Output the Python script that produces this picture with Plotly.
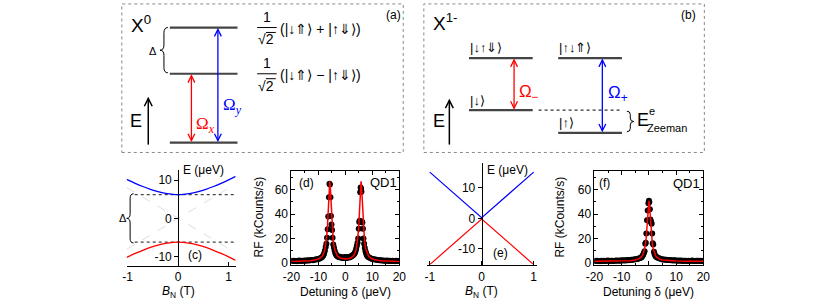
import plotly.graph_objects as go

W, H = 830, 306
FONT = "Liberation Sans, Arial, sans-serif"
SERIF = "Liberation Serif, DejaVu Serif, serif"

# ---------------- data ----------------
# (c) X0 energies vs nuclear field
c_B = [-1.02, -0.85, -0.7, -0.55, -0.4, -0.25, -0.1, 0, 0.1, 0.25, 0.4, 0.55, 0.7, 0.85, 1.0, 1.14]
c_upper = [10.17, 9.14, 8.31, 7.57, 6.96, 6.51, 6.25, 6.2, 6.25, 6.51, 6.96, 7.57, 8.31, 9.14, 10.04, 10.93]
c_lower = [-10.17, -9.14, -8.31, -7.57, -6.96, -6.51, -6.25, -6.2, -6.25, -6.51, -6.96, -7.57, -8.31, -9.14, -10.04, -10.93]
c_asym_B = [-1.02, 1.14]
c_asym_up = [-8.06, 9.0]
c_asym_dn = [8.06, -9.0]
c_split_B = [-0.86, 1.14]
c_split = [6.2, -6.2]

# (e) X1- energies vs nuclear field
e_B = [-1, 0, 1]
e_upper = [15.2, 0.2, 15.2]
e_lower = [-15.2, -0.2, -15.2]

# tick values / labels
BN_ticks = [-1, 0, 1]
BN_text = ["-1", "0", "1"]
c_yticks = [-10, 0, 10]
c_ytext = ["-10", "0", "10"]
e_yticks = [-10, 0, 10]
e_ytext = ["-10", "0", "10"]
det_ticks = [-20, -10, 0, 10, 20]
det_text = ["-20", "-10", "0", "10", "20"]
rf_ticks = [0, 20, 40, 60]
rf_text = ["0", "20", "40", "60"]

# (d) RF spectrum of X0 (QD1)
d_det = [-20, -19.5, -19, -18.5, -18, -17.5, -17, -16.5, -16, -15.5, -15, -14.5, -14, -13.5, -13, -12.5,
         -12, -11.5, -11, -10.5, -10, -9.5, -9, -8.6,
         -8.2, -7.9, -7.6, -7.3, -7.05, -6.8, -6.55, -6.35, -6.1, -5.9, -5.75, -5.55, -5.35, -5.15, -4.95,
         -4.75, -4.5, -4.25, -4.0, -3.75, -3.5,
         -3.25, -3.0, -2.75, -2.5, -2.25, -2.0, -1.75, -1.5, -1.25, -1.0, -0.75, -0.5, -0.25, 0, 0.25, 0.5,
         0.75, 1.0, 1.25, 1.5, 1.75, 2.0, 2.25, 2.5, 2.75, 3.0, 3.25,
         3.5, 3.75, 4.0, 4.25, 4.5, 4.75, 4.95, 5.15, 5.3, 5.5, 5.65, 5.8, 5.95, 6.1, 6.3, 6.5, 6.7, 6.95,
         7.2, 7.45, 7.7, 8.0, 8.3,
         8.6, 9, 9.5, 10, 10.5, 11, 11.5, 12, 12.5, 13, 13.5, 14, 14.5, 15, 15.5, 16, 16.5, 17, 17.5, 18,
         18.5, 19, 19.5, 20]
d_rf = [1.5, 1.3, 1.6, 1.4, 1.2, 1.5, 1.7, 1.4, 1.6, 1.5, 1.8, 1.6, 1.9, 1.7, 2.0, 2.1,
        2.0, 2.4, 2.6, 2.8, 3.1, 3.4, 4.0, 4.6,
        6.0, 7.5, 9.8, 13.0, 15.5, 20.5, 27.5, 38.0, 54.0, 65.0, 64.5, 54.0, 38.5, 31.5, 27.0,
        20.5, 15.0, 12.5, 10.0, 8.0, 7.0,
        6.0, 5.5, 5.0, 4.6, 4.4, 4.8, 4.2, 4.5, 4.0, 4.3, 3.8, 4.1, 4.6, 4.0, 4.4, 3.9,
        4.2, 4.6, 4.3, 4.8, 4.5, 5.0, 5.3, 5.8, 6.2, 6.6, 7.2,
        8.0, 9.5, 11.5, 14.0, 16.5, 20.0, 28.0, 33.5, 34.5, 58.0, 62.0, 61.0, 58.5, 34.0, 33.0, 28.0, 20.0, 15.5,
        12.0, 9.5, 7.5, 6.0, 5.0,
        4.5, 4.0, 3.5, 3.1, 2.8, 2.6, 2.3, 2.1, 2.0, 1.9, 1.7, 1.8, 1.6, 1.5, 1.7, 1.4, 1.5, 1.3, 1.6, 1.4,
        1.2, 1.5, 1.3, 1.4]
d_fit_det = [-20, -16, -13, -11, -9.6, -8.6, -8.1, -7.6, -7.1, -6.8, -6.6, -6.4, -6.2, -6.0, -5.8, -5.6, -5.4,
             -5.2, -5.0, -4.8, -4.5, -4.0, -3.5, -3.0, -2.0, -1.0, 0, 1.0, 2.0, 3.0, 3.5, 4.0, 4.5, 4.8, 5.0,
             5.2, 5.4, 5.6, 5.8, 6.0, 6.2, 6.4, 6.6, 6.8, 7.1, 7.6, 8.1, 8.6, 9.6, 11, 13, 16, 20]
d_fit_rf = [1.06, 1.25, 1.65, 2.3, 3.4, 5.4, 7.4, 10.8, 17.6, 24.7, 31.8, 41.2, 52.4, 62.6, 67.1, 62.7, 52.5,
            41.3, 32.0, 24.9, 17.6, 10.93, 7.58, 5.69, 3.87, 3.16, 2.97, 3.16, 3.87, 5.69, 7.58, 10.93, 17.6,
            24.9, 32.0, 41.3, 52.5, 62.7, 67.1, 62.6, 52.4, 41.2, 31.8, 24.7, 17.6, 10.8, 7.4, 5.4, 3.4, 2.3,
            1.65, 1.25, 1.06]

# (f) RF spectrum of X1- (QD1)
f_det = [-20, -19.5, -19, -18.5, -18, -17.5, -17, -16.5, -16, -15.5, -15, -14.5, -14, -13.5, -13, -12.5,
         -12, -11.5, -11, -10.5, -10, -9.5, -9, -8.5, -8, -7.5, -7, -6.5, -6, -5.5, -5, -4.5, -4, -3.5, -3,
         -2.7, -2.4, -2.1, -1.85, -1.6, -1.35, -1.15, -0.95, -0.7, -0.45, -0.2, 0.0, 0.15, 0.35, 0.55, 0.7,
         0.85, 1.0, 1.2, 1.4, 1.6, 1.85, 2.1, 2.4, 2.7,
         3, 3.5, 4, 4.5, 5, 5.5, 6, 6.5, 7, 7.5, 8, 8.5, 9, 9.5, 10, 10.5, 11, 11.5, 12, 12.5, 13, 13.5, 14,
         14.5, 15, 15.5, 16, 16.5, 17, 17.5, 18, 18.5, 19, 19.5, 20]
f_rf = [1.5, 1.3, 1.6, 1.4, 1.2, 1.5, 1.4, 1.6, 1.3, 1.5, 1.7, 1.4, 1.6, 1.5, 1.3, 1.6,
        1.8, 1.5, 1.7, 1.6, 1.9, 1.7, 2.0, 1.8, 2.1, 1.9, 2.2, 2.4, 2.3, 2.6, 2.8, 3.0, 3.3, 3.7, 4.0,
        4.5, 5.5, 6.5, 8.0, 9.5, 15.5, 16.5, 24.0, 35.0, 43.0, 49.0, 51.0, 50.0, 44.0, 35.5, 34.0,
        33.0, 32.0, 24.0, 16.0, 15.0, 9.0, 7.0, 5.5, 4.8,
        4.2, 3.8, 3.4, 3.0, 2.7, 2.6, 2.3, 2.4, 2.1, 2.2, 1.9, 2.0, 1.8, 1.9, 1.7, 1.6, 1.8, 1.5, 1.7,
        1.4, 1.6, 1.5, 1.3, 1.6, 1.4, 1.5, 1.7, 1.4, 1.3, 1.5, 1.6, 1.4, 1.5, 1.3, 1.4]
f_fit_det = [-20, -15, -10, -7, -5, -4, -3, -2.5, -2, -1.5, -1.25, -1, -0.75, -0.5, -0.25, 0,
             0.25, 0.5, 0.75, 1, 1.25, 1.5, 2, 2.5, 3, 4, 5, 7, 10, 15, 20]
f_fit_rf = [1.08, 1.14, 1.32, 1.64, 2.25, 2.9, 4.3, 5.6, 7.9, 12.1, 15.5, 20.5, 27.6, 36.9, 46.5, 51.0,
            46.5, 36.9, 27.6, 20.5, 15.5, 12.1, 7.9, 5.6, 4.3, 2.9, 2.25, 1.64, 1.32, 1.14, 1.08]


# ---------------- helpers (pixel -> paper) ----------------
def px(x):
    return x / W


def py(y):
    return 1 - y / H


shapes = []
annotations = []


def seg(x0, y0, x1, y1, color="black", width=1.0, dash=None):
    ln = dict(color=color, width=width)
    if dash:
        ln["dash"] = dash
    shapes.append(dict(type="line", xref="paper", yref="paper", x0=px(x0), y0=py(y0),
                       x1=px(x1), y1=py(y1), line=ln, layer="above"))


def path(pts, color="black", width=1.0):
    d = "M " + " L ".join(f"{px(a):.5f},{py(b):.5f}" for a, b in pts)
    shapes.append(dict(type="path", xref="paper", yref="paper", path=d,
                       line=dict(color=color, width=width), layer="above"))


def varrow(x, ytop, ybot, color, top=True, bottom=True, width=1.3, hw=3.5, hl=7):
    seg(x, ytop, x, ybot, color, width)
    if top:
        path([(x - hw, ytop + hl), (x, ytop), (x + hw, ytop + hl)], color, width)
    if bottom:
        path([(x - hw, ybot - hl), (x, ybot), (x + hw, ybot - hl)], color, width)


def brace(xt, y0, y1, w, color="black", width=1.0):
    # xt: tip x ; w>0 -> "{" (opens right), w<0 -> "}" (opens left)
    xe = xt + w
    xm = xt + w / 2
    ym = (y0 + y1) / 2
    r = min(abs(w) / 1.5, (y1 - y0) / 6)
    P = lambda a, b: f"{px(a):.5f},{py(b):.5f}"
    d = (f"M {P(xe, y0)} Q {P(xm, y0)} {P(xm, y0 + r)} L {P(xm, ym - r)} "
         f"Q {P(xm, ym)} {P(xt, ym)} Q {P(xm, ym)} {P(xm, ym + r)} L {P(xm, y1 - r)} "
         f"Q {P(xm, y1)} {P(xe, y1)}")
    shapes.append(dict(type="path", xref="paper", yref="paper", path=d,
                       line=dict(color=color, width=width), layer="above"))


def text(x, y, s, size=12, color="black", xanchor="center", yanchor="middle", family=FONT, angle=0):
    annotations.append(dict(x=px(x), y=py(y), xref="paper", yref="paper", text=s, showarrow=False,
                            xanchor=xanchor, yanchor=yanchor, textangle=angle, borderpad=0,
                            font=dict(size=size, color=color, family=family)))


# ---------------- panel (a) ----------------
shapes.append(dict(type="rect", xref="paper", yref="paper", x0=px(115), x1=px(402), y0=py(155), y1=py(4),
                   line=dict(color="#888888", width=1, dash="dot")))
LEV = "#444444"
seg(164, 28, 233, 28, LEV, 2.2)
seg(164, 75, 233, 75, LEV, 2.2)
seg(164, 145, 233, 145, LEV, 2.2)
varrow(186, 77, 143, "red")
varrow(213, 30, 143, "blue")
text(190, 127, "Ω<sub><i>x</i></sub>", 17, "red", "left", family=SERIF)
text(217, 108, "Ω<sub><i>y</i></sub>", 17, "blue", "left", family=SERIF)
text(147, 52, "Δ", 11)
brace(154, 28, 74, 8)
text(130, 123, "E", 18)
varrow(142, 100, 147, "black", top=True, bottom=False, width=1.5, hw=4, hl=8)
text(123, 24, "X<sup>0</sup>", 19, xanchor="left")
# fractions 1/sqrt(2)
for yb in (28, 75):
    text(263, yb - 11, "1", 14)
    seg(253, yb, 273, yb, "black", 1)
    text(262, yb + 12, "√2", 14)
    seg(262, yb + 5, 272, yb + 5, "black", 1)
text(275, 29, "(|↓⇑⟩ + |↑⇓⟩)", 14, xanchor="left")
text(275, 76, "(|↓⇑⟩ − |↑⇓⟩)", 14, xanchor="left")
text(392, 15, "(a)", 12)

# ---------------- panel (b) ----------------
shapes.append(dict(type="rect", xref="paper", yref="paper", x0=px(423), x1=px(709), y0=py(155), y1=py(4),
                   line=dict(color="#888888", width=1, dash="dot")))
seg(469, 59, 534, 59, LEV, 2.2)
seg(469, 112, 534, 112, LEV, 2.2)
seg(560, 59, 625, 59, LEV, 2.2)
seg(560, 135, 625, 135, LEV, 2.2)
seg(540, 112, 625, 112, "#333333", 1.2, "dot")
varrow(515, 61, 110, "red")
varrow(605, 61, 133, "blue")
text(519, 95, "Ω<sub>−</sub>", 17, "red", "left")
text(610, 96, "Ω<sub>+</sub>", 17, "blue", "left")
text(469, 48, "|↓↑⇓⟩", 13, xanchor="left")
text(560, 48, "|↑↓⇑⟩", 13, xanchor="left")
text(469, 102, "|↓⟩", 13, xanchor="left")
text(560, 125, "|↑⟩", 13, xanchor="left")
brace(637, 113, 134, -7)
text(639, 122, "E", 18, xanchor="left")
text(652, 113, "e", 11, xanchor="left")
text(650, 130, "Zeeman", 11, xanchor="left")
text(438, 123, "E", 18)
varrow(449, 102, 147, "black", top=True, bottom=False, width=1.5, hw=4, hl=8)
text(431, 22, "X<sup>1-</sup>", 19, xanchor="left")
text(693, 15, "(b)", 12)

# ---------------- bottom panels: labels ----------------
text(116, 222, "Δ", 11)
brace(120, 197, 247, 7)
text(176, 173, "E (μeV)", 12, xanchor="left")
text(172.5, 297, "<i>B</i><sub>N</sub> (T)", 12)
text(190, 259, "(c)", 12)

text(255, 221, "RF (kCounts/s)", 12, angle=-90)
text(343, 297, "Detuning δ (μeV)", 12)
text(303, 186, "(d)", 12)
text(397, 186, "QD1", 13, xanchor="right")

text(486, 173, "E (μeV)", 12, xanchor="left")
text(482, 297, "<i>B</i><sub>N</sub> (T)", 12)
text(501, 257, "(e)", 12)

text(562, 221, "RF (kCounts/s)", 12, angle=-90)
text(652, 297, "Detuning δ (μeV)", 12)
text(607, 186, "(f)", 12)
text(706, 187, "QD1", 13, xanchor="right")

# ---------------- traces ----------------
fig = go.Figure()
# (c)
fig.add_trace(go.Scatter(x=c_asym_B, y=c_asym_up, mode="lines", line=dict(color="#dddddd", width=1, dash="dash"),
                         xaxis="x", yaxis="y"))
fig.add_trace(go.Scatter(x=c_asym_B, y=c_asym_dn, mode="lines", line=dict(color="#dddddd", width=1, dash="dash"),
                         xaxis="x", yaxis="y"))
for v in c_split:
    fig.add_trace(go.Scatter(x=c_split_B, y=[v, v], mode="lines", line=dict(color="#444444", width=1.2, dash="dot"),
                             xaxis="x", yaxis="y"))
fig.add_trace(go.Scatter(x=c_B, y=c_upper, mode="lines", line=dict(color="blue", width=1.3, shape="spline"),
                         xaxis="x", yaxis="y"))
fig.add_trace(go.Scatter(x=c_B, y=c_lower, mode="lines", line=dict(color="red", width=1.3, shape="spline"),
                         xaxis="x", yaxis="y"))
# (e)
fig.add_trace(go.Scatter(x=e_B, y=e_upper, mode="lines", line=dict(color="blue", width=1.2), xaxis="x2", yaxis="y2"))
fig.add_trace(go.Scatter(x=e_B, y=e_lower, mode="lines", line=dict(color="red", width=1.2), xaxis="x2", yaxis="y2"))
# (d)
fig.add_trace(go.Scatter(x=d_det, y=d_rf, mode="markers", marker=dict(color="black", size=6),
                         xaxis="x3", yaxis="y3"))
fig.add_trace(go.Scatter(x=d_fit_det, y=d_fit_rf, mode="lines", line=dict(color="red", width=1.5),
                         xaxis="x3", yaxis="y3"))
# (f)
fig.add_trace(go.Scatter(x=f_det, y=f_rf, mode="markers", marker=dict(color="black", size=6),
                         xaxis="x4", yaxis="y4"))
fig.add_trace(go.Scatter(x=f_fit_det, y=f_fit_rf, mode="lines", line=dict(color="red", width=1.5),
                         xaxis="x4", yaxis="y4"))

tickfont = dict(size=12, color="black", family=FONT)
common = dict(showgrid=False, zeroline=False, showline=True, linecolor="black", linewidth=1,
              tickcolor="black", tickfont=tickfont, fixedrange=True)
ghost = dict(showgrid=False, zeroline=False, showline=False, showticklabels=False, ticks="outside",
             ticklen=3, tickcolor="black", fixedrange=True, side="right")

fig.update_layout(
    width=W, height=H, margin=dict(l=0, r=0, t=0, b=0),
    paper_bgcolor="white", plot_bgcolor="rgba(0,0,0,0)", showlegend=False,
    font=dict(family=FONT, color="black"),
    shapes=shapes, annotations=annotations,
    # (c)
    xaxis=dict(domain=[px(120), px(231)], range=[-1.019, 1.136], anchor="y", ticks="inside", ticklen=4,
               tickvals=BN_ticks, ticktext=BN_text, ticklabelstandoff=0, **common),
    yaxis=dict(domain=[py(270), py(173)], range=[-12.3, 12.56], anchor="free", position=px(172.5),
               ticks="outside", ticklen=4, tickvals=c_yticks, ticktext=c_ytext, **common),
    yaxis5=dict(overlaying="y", range=[-12.3, 12.56], anchor="free", position=px(172.5),
                tickvals=c_yticks, **ghost),
    # (e)
    xaxis2=dict(domain=[px(426), px(538)], range=[-1.057, 1.057], anchor="y2", ticks="inside", ticklen=4,
                tickvals=BN_ticks, ticktext=BN_text, ticklabelstandoff=1, **common),
    yaxis2=dict(domain=[py(269), py(166)], range=[-15.2, 18.1], anchor="free", position=px(482),
                ticks="outside", ticklen=4, tickvals=e_yticks, ticktext=e_ytext, **common),
    yaxis6=dict(overlaying="y2", range=[-15.2, 18.1], anchor="free", position=px(482),
                tickvals=e_yticks, **ghost),
    # (d)
    xaxis3=dict(domain=[px(288), px(398)], range=[-20, 20], anchor="y3", ticks="inside", ticklen=4,
                tickvals=det_ticks, ticktext=det_text, mirror="allticks", ticklabelstandoff=1,
                minor=dict(ticks="inside", ticklen=2, dtick=5), **common),
    yaxis3=dict(domain=[py(269), py(174)], range=[-1.6, 75.4], anchor="x3", ticks="inside", ticklen=4,
                tickvals=rf_ticks, ticktext=rf_text, mirror="allticks",
                minor=dict(ticks="inside", ticklen=2, dtick=10), **common),
    # (f)
    xaxis4=dict(domain=[px(597), px(708)], range=[-20, 20], anchor="y4", ticks="inside", ticklen=4,
                tickvals=det_ticks, ticktext=det_text, mirror="allticks", ticklabelstandoff=1,
                minor=dict(ticks="inside", ticklen=2, dtick=5), **common),
    yaxis4=dict(domain=[py(269), py(174)], range=[-1.6, 75.4], anchor="x4", ticks="inside", ticklen=4,
                tickvals=rf_ticks, ticktext=rf_text, mirror="allticks",
                minor=dict(ticks="inside", ticklen=2, dtick=10), **common),
)

fig.write_html("out.html", config={"displayModeBar": False, "staticPlot": True},
               post_script="document.body.style.margin='0';document.body.style.overflow='hidden';")
